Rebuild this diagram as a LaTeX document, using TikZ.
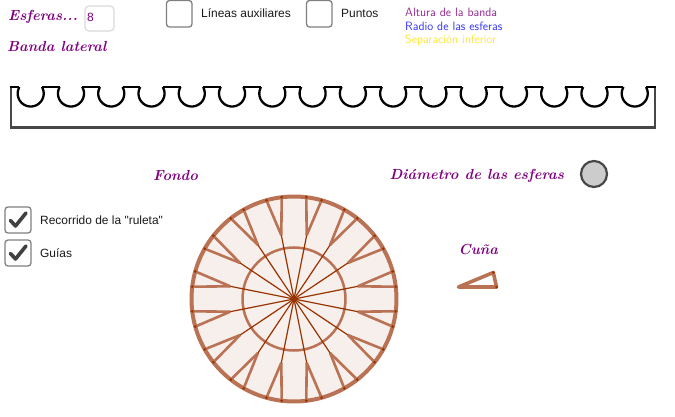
\documentclass[tikz,border=0pt]{standalone}
\usepackage{fontspec}
\setsansfont{Liberation Sans}[Ligatures=TeXOff]
\newfontfamily\lmsans{Latin Modern Sans}
\definecolor{pur}{HTML}{800080}
\definecolor{rim}{HTML}{BA7254}
\definecolor{spoke}{HTML}{993300}
\definecolor{pale}{HTML}{F7EFEB}
\tikzset{
  title/.style={text=pur,font=\fontsize{14.6}{14.6}\selectfont\bfseries\itshape,inner sep=0pt,anchor=base west},
  ui/.style={text=black!90,font=\sffamily\fontsize{11.95}{12}\selectfont,inner sep=0pt,anchor=base west},
  legend/.style={font=\lmsans\fontsize{12.1}{12}\selectfont,inner sep=0pt,anchor=base west},
  checkbox/.style={draw=black!50,line width=1.3pt,rounded corners=3pt,fill=white},
  tick/.style={draw=black!75,line width=3.6pt,line join=round,line cap=round},
  bandside/.style={draw=black!72,line width=2.4pt,line join=miter},
  bandtop/.style={draw=black,line width=2.3pt},
  rimline/.style={draw=rim,line width=4pt},
  circ/.style={draw=rim,line width=2.5pt},
  tooth/.style={draw=rim,line width=2.6pt},
  spokeline/.style={draw=spoke,line width=1.2pt},
}
\begin{document}
\begin{tikzpicture}[x=1pt,y=-1pt]
\useasboundingbox (0,0) rectangle (675,417);
% controls
\node[title] (esf) at (8,21) {Esferas...};
\draw[draw=black!15,line width=1.2pt,rounded corners=4pt,fill=white] (85,6) rectangle (114,31);
\node[text=pur,font=\sffamily\fontsize{12}{12}\selectfont,inner sep=0pt,anchor=base west] (num) at (87,22) {8};
\node[title] (ban) at (7,52) {Banda lateral};
\draw[checkbox] (166.5,0.5) rectangle (192,27);
\node[ui] (lin) at (201,18) {Líneas auxiliares};
\draw[checkbox] (306.5,0.5) rectangle (332,27);
\node[ui] (pun) at (341,18) {Puntos};
\node[legend,text=pur!85] (l1) at (405,17) {Altura de la banda};
\node[legend,text={rgb,255:red,51;green,51;blue,255}] (l2) at (405,30.5) {Radio de las esferas};
\node[legend,text={rgb,255:red,255;green,230;blue,51}] (l3) at (405,44) {Separación inferior};
% band
\draw[bandside] (11,87) -- (11,127.5) -- (655,127.5) -- (655,87);
\draw[bandtop] (10,87) -- (19.44,87);
\foreach \k in {0,...,15}{
  \pgfmathsetmacro{\c}{30.7+40.27*\k}
  \draw[bandtop] plot[domain=210:-30,samples=41,smooth] ({\c+13*cos(\x)},{93.5+13*sin(\x)});
  \ifnum\k<15
    \draw[bandtop] ({\c+11.26},87) -- ({\c+29},87);
  \else
    \draw[bandtop] ({\c+11.26},87) -- (656,87);
  \fi
}
% disc
\fill[pale] (294,299) circle[radius=102.5];
\coordinate (O) at (294,299);
\foreach \k in {0,...,15}{
  \pgfmathsetmacro{\a}{11.25+22.5*\k}
  \pgfmathsetmacro{\b}{\a-4.35}
  \pgfmathsetmacro{\d}{\a+4.35}
  \draw[tooth] ([shift={(\b:102.5)}]O) -- ([shift={(\a:65)}]O);
  \draw[tooth] ([shift={(\a:65)}]O) -- ([shift={(\d:102.5)}]O);
  \fill[spoke] ([shift={(\b:102.5)}]O) circle[radius=1.7] ([shift={(\d:102.5)}]O) circle[radius=1.7];
}
\fill[spoke] (O) circle[radius=2.6];
\draw[circ] (O) circle[radius=51.5];
\draw[rimline] (O) circle[radius=102.5];
\foreach \k in {0,...,15}{
  \pgfmathsetmacro{\a}{11.25+22.5*\k}
  \pgfmathsetmacro{\b}{\a-4.35}
  \pgfmathsetmacro{\d}{\a+4.35}
  \draw[spokeline] (O) -- ([shift={(\a:65)}]O);
  \fill[spoke] ([shift={(\b:102.5)}]O) circle[radius=1.5] ([shift={(\d:102.5)}]O) circle[radius=1.5];
}
% labels
\node[title] (fon) at (153,180) {Fondo};
\node[title] (dia) at (389.5,179) {Diámetro de las esferas};
\draw[draw=black!72,line width=2.2pt,fill=black!20] (594,174) circle[radius=13];
\node[title] (cun) at (458.5,254) {Cuña};
\draw[draw=rim,line width=3.6pt,line join=round] (458.5,287) -- (493.3,272.5) -- (496.5,287) -- cycle;
\fill[spoke] (493.3,272.5) circle[radius=1.5] (496.5,287) circle[radius=1.5];
% check boxes
\draw[checkbox] (5,207) rectangle (31,233);
\draw[tick] (10.5,220.5) -- (15.5,226) -- (26,213);
\node[ui] (rec) at (40,224) {Recorrido de la "ruleta"};
\draw[checkbox] (5,240) rectangle (31,266);
\draw[tick] (10.5,253.5) -- (15.5,259) -- (26,246);
\node[ui] (gui) at (40,257) {Guías};
\end{tikzpicture}
\end{document}
